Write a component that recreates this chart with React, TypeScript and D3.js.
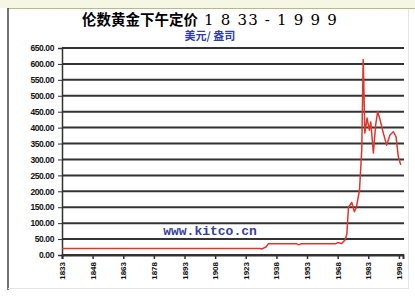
import React, { useEffect, useRef } from "react";
import * as d3 from "d3";

// London PM gold fix, USD / oz
const years = [
  1833, 1930, 1931, 1933, 1934, 1948, 1949, 1950, 1967, 1968, 1970, 1971.6,
  1972.5, 1973.3, 1974.9, 1976.2, 1977.2, 1978.7, 1979.8, 1980.5, 1980.8,
  1981.3, 1982.4, 1983.5, 1984.2, 1985.5, 1986.6, 1987.6, 1988.8, 1990.4,
  1992, 1993.6, 1995.3, 1996.6, 1997.7, 1998.9,
];
const prices = [
  20.67, 20.67, 19, 26, 35, 35, 32, 35, 35, 39, 36, 47, 65, 150, 165, 136,
  150, 204, 330, 614, 540, 383, 430, 392, 418, 320, 408, 451, 424, 382, 345,
  377, 387, 371, 309, 283,
];
const yTicks = d3.range(0, 651, 50);
const xTicks = d3.range(1833, 1999, 15);

const W = 415;
const H = 296;
const margin = { top: 48, right: 12, bottom: 41, left: 62 };

const GoldChart: React.FC = () => {
  const svgRef = useRef<SVGSVGElement | null>(null);

  useEffect(() => {
    if (!svgRef.current) return;
    const svg = d3.select(svgRef.current);
    svg.selectAll("*").remove();

    const x = d3.scaleLinear().domain([1833, 2000]).range([margin.left, W - margin.right]);
    const y = d3.scaleLinear().domain([0, 650]).range([H - margin.bottom, margin.top]);

    // frame
    svg.append("rect").attr("width", W).attr("height", H).attr("fill", "#fff");
    svg.append("rect").attr("width", W).attr("height", 8).attr("fill", "#f6f6e4");
    svg.append("line").attr("x1", 8).attr("x2", W).attr("y1", 8.5).attr("y2", 8.5)
      .attr("stroke", "#b8b890").attr("stroke-width", 1);
    svg.append("line").attr("x1", 8).attr("x2", 8).attr("y1", 8).attr("y2", 290)
      .attr("stroke", "#444").attr("stroke-width", 1.5);
    svg.append("line").attr("x1", 408.5).attr("x2", 408.5).attr("y1", 9).attr("y2", 288)
      .attr("stroke", "#e4e4e4");
    svg.append("line").attr("x1", 8).attr("x2", 409).attr("y1", 288.5).attr("y2", 288.5)
      .attr("stroke", "#e4e4e4");

    // title
    const title = svg.append("text").attr("x", 210).attr("y", 25).attr("text-anchor", "middle");
    title.append("tspan").text("伦数黄金下午定价")
      .attr("font-family", "'Noto Sans CJK SC', sans-serif").attr("font-weight", 700)
      .attr("font-size", 14.5);
    title.append("tspan").text(" 1 8 33 - 1 9 9 9")
      .attr("font-family", "'DejaVu Serif', serif").attr("font-size", 15)
      .attr("letter-spacing", 1.2);

    svg.append("text").attr("x", 210).attr("y", 40).attr("text-anchor", "middle")
      .attr("font-family", "'Noto Sans CJK SC', sans-serif").attr("font-weight", 700)
      .attr("font-size", 11).attr("fill", "#2f3fb0").text("美元/ 盎司");

    // gridlines
    svg.append("g").selectAll("line").data(yTicks).join("line")
      .attr("x1", margin.left).attr("x2", W - margin.right + 1)
      .attr("y1", (d) => y(d)).attr("y2", (d) => y(d))
      .attr("stroke", "#333").attr("stroke-width", 2);

    // y axis
    const yAxis = svg.append("g").attr("transform", `translate(${margin.left},0)`)
      .call(d3.axisLeft(y).tickValues(yTicks).tickSize(4).tickFormat((d) => d3.format(".2f")(d as number)));
    yAxis.select(".domain").attr("stroke", "#333").attr("stroke-width", 1.5);
    yAxis.selectAll("line").attr("stroke", "#333");
    yAxis.selectAll("text").attr("font-family", "'Liberation Sans', Arial, sans-serif")
      .attr("font-weight", 700).attr("font-size", 8.5).attr("letter-spacing", -0.4)
      .attr("fill", "#111").attr("x", -8);

    // x axis
    const xAxis = svg.append("g").attr("transform", `translate(0,${H - margin.bottom})`)
      .call(d3.axisBottom(x).tickValues(xTicks).tickSize(4).tickFormat((d) => String(d)));
    xAxis.select(".domain").attr("stroke", "#333").attr("stroke-width", 2);
    xAxis.selectAll("line").attr("stroke", "#333").attr("stroke-width", 1.5);
    xAxis.selectAll("text").attr("font-family", "'Liberation Sans', Arial, sans-serif")
      .attr("font-weight", 700).attr("font-size", 8).attr("fill", "#111")
      .attr("transform", "rotate(-90)").attr("text-anchor", "end")
      .attr("x", -7).attr("y", 0).attr("dy", "0.32em");

    // watermark
    svg.append("text").attr("x", 210).attr("y", 235).attr("text-anchor", "middle")
      .attr("font-family", "'Liberation Mono', monospace").attr("font-weight", 700)
      .attr("font-size", 13).attr("fill", "#3340a0").text("www.kitco.cn");

    // price line
    const line = d3.line<number>().x((_, i) => x(years[i])).y((d) => y(d));
    svg.append("path").datum(prices).attr("d", line).attr("fill", "none")
      .attr("stroke", "#e0362a").attr("stroke-width", 1.5).attr("stroke-linejoin", "round");
  }, []);

  return (
    <div style={{ position: "absolute", left: 0, top: 0 }}>
      <svg ref={svgRef} width={W} height={H} style={{ display: "block" }} />
    </div>
  );
};

export default function App() {
  return <GoldChart />;
}
